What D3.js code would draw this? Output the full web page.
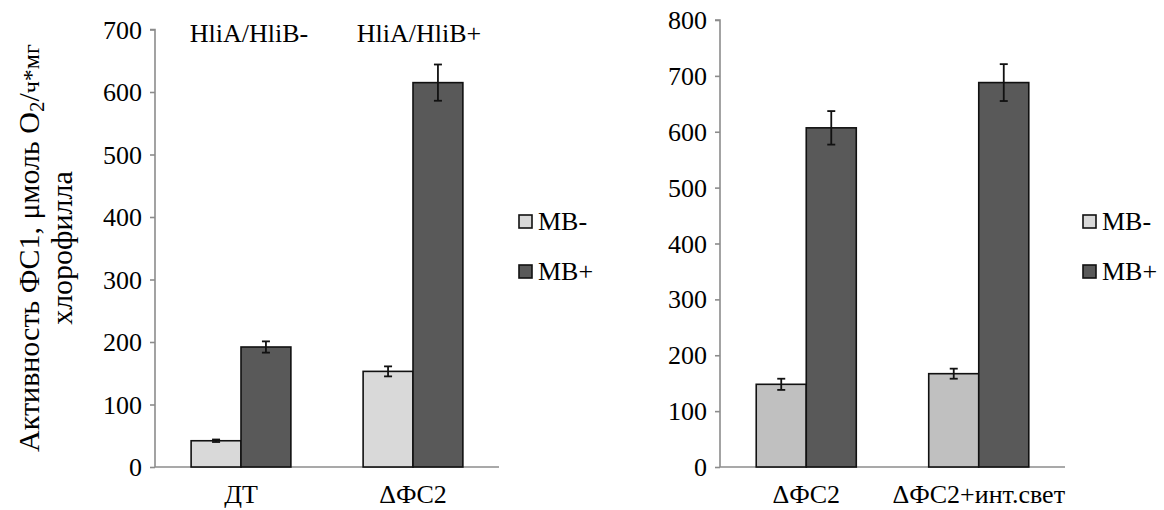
<!DOCTYPE html>
<html>
<head>
<meta charset="utf-8">
<script src="https://cdn.jsdelivr.net/npm/d3@7"></script>
</head>
<body style="margin:0">
<svg id="s" width="1164" height="510"></svg>
<script>
// ---- data ----
const seriesNames = ["MB-", "MB+"];

// left panel: wild type vs ΔФС2
const leftCategories = ["ДТ", "ΔФС2"];
const leftTopLabels = ["HliA/HliB-", "HliA/HliB+"];
const leftMBminus = [42, 153];
const leftMBminusErr = [2, 8];
const leftMBplus = [192, 615];
const leftMBplusErr = [9, 29];
const leftTicks = [0, 100, 200, 300, 400, 500, 600, 700];

// right panel: ΔФС2 vs ΔФС2 under intense light
const rightCategories = ["ΔФС2", "ΔФС2+инт.свет"];
const rightMBminus = [148, 167];
const rightMBminusErr = [10, 9];
const rightMBplus = [607, 688];
const rightMBplusErr = [30, 33];
const rightTicks = [0, 100, 200, 300, 400, 500, 600, 700, 800];

const FONT = 26;
const s = d3.select("#s");

// every text element goes straight onto the svg root
function txt(x, y, str, size, anchor) {
  return s.append("text").attr("x", x).attr("y", y)
    .style("font-family", '"Liberation Serif"')
    .style("font-size", (size || FONT) + "px")
    .attr("text-anchor", anchor || "start")
    .text(str);
}

function panel(opts) {
  const g = s.append("g");
  const x = d3.scaleBand().domain(opts.categories).range(opts.xRange)
    .paddingInner(0.42).paddingOuter(0.21);
  const xs = d3.scaleBand().domain(seriesNames).range([0, x.bandwidth()]);
  const y = d3.scaleLinear().domain(opts.yDomain).range(opts.yRange);

  // y axis lines (labels drawn separately below)
  const yAxis = g.append("g")
    .attr("transform", `translate(${opts.xRange[0]},0)`)
    .call(d3.axisLeft(y).tickValues(opts.ticks).tickSize(5).tickFormat(""));
  yAxis.selectAll("text").remove();
  yAxis.selectAll("path, line").attr("stroke", "#8c8c8c").attr("stroke-width", 1.6);
  yAxis.select(".domain").attr("d", `M-5,${y(opts.ticks[opts.ticks.length-1])}H0V${y(0)}`);
  opts.ticks.forEach(t => txt(opts.xRange[0] - 13, y(t) + 9, String(t), FONT, "end"));

  // x baseline
  g.append("line")
    .attr("x1", opts.xRange[0]).attr("x2", opts.xRange[1])
    .attr("y1", y(0)).attr("y2", y(0))
    .attr("stroke", "#8c8c8c").attr("stroke-width", 1.6);

  const rows = opts.categories.map((c, i) => ({
    cat: c,
    vals: [
      { s: "MB-", v: opts.minus[i], e: opts.minusErr[i], fill: opts.minusFill },
      { s: "MB+", v: opts.plus[i], e: opts.plusErr[i], fill: "#595959" }
    ]
  }));

  const grp = g.selectAll("g.grp").data(rows).join("g")
    .attr("class", "grp")
    .attr("transform", d => `translate(${x(d.cat)},0)`);

  grp.selectAll("rect").data(d => d.vals).join("rect")
    .attr("x", d => xs(d.s))
    .attr("y", d => y(d.v))
    .attr("width", xs.bandwidth())
    .attr("height", d => y(0) - y(d.v))
    .attr("fill", d => d.fill)
    .attr("stroke", "#111")
    .attr("stroke-width", 1.6);

  // error bars
  const eb = grp.selectAll("g.err").data(d => d.vals).join("g").attr("class", "err");
  const cx = d => xs(d.s) + xs.bandwidth() / 2;
  eb.append("line")
    .attr("x1", cx).attr("x2", cx)
    .attr("y1", d => y(d.v + d.e)).attr("y2", d => y(d.v - d.e));
  eb.append("line")
    .attr("x1", d => cx(d) - 4).attr("x2", d => cx(d) + 4)
    .attr("y1", d => y(d.v + d.e)).attr("y2", d => y(d.v + d.e));
  eb.append("line")
    .attr("x1", d => cx(d) - 4).attr("x2", d => cx(d) + 4)
    .attr("y1", d => y(d.v - d.e)).attr("y2", d => y(d.v - d.e));
  eb.selectAll("line").attr("stroke", "#111").attr("stroke-width", 1.8);

  // category labels
  opts.categories.forEach(c => txt(x(c) + x.bandwidth() / 2, 503, c, FONT, "middle"));

  // legend
  const items = [{ s: "MB-", fill: opts.legendMinusFill }, { s: "MB+", fill: "#595959" }];
  items.forEach((it, i) => {
    g.append("rect")
      .attr("x", opts.legendX).attr("y", opts.legendY + i * 50 - 7).attr("width", 13).attr("height", 13)
      .attr("fill", it.fill).attr("stroke", "#111").attr("stroke-width", 1.6);
    txt(opts.legendX + 19, opts.legendY + i * 50 + 8, it.s);
  });

  return { x, y };
}

const left = panel({
  categories: leftCategories,
  xRange: [155, 499],
  yDomain: [0, 700], yRange: [467, 29.5],
  ticks: leftTicks,
  minus: leftMBminus, minusErr: leftMBminusErr,
  plus: leftMBplus, plusErr: leftMBplusErr,
  minusFill: "#d9d9d9", legendMinusFill: "#d9d9d9",
  legendX: 519, legendY: 222
});

// group labels above the left panel
leftTopLabels.forEach((t, i) =>
  txt(left.x(leftCategories[i]) + left.x.bandwidth() / 2 + (i === 0 ? 8 : 6), 42, t, FONT, "middle"));

panel({
  categories: rightCategories,
  xRange: [720, 1065],
  yDomain: [0, 800], yRange: [467, 20],
  ticks: rightTicks,
  minus: rightMBminus, minusErr: rightMBminusErr,
  plus: rightMBplus, plusErr: rightMBplusErr,
  minusFill: "#c0c0c0", legendMinusFill: "#d9d9d9",
  legendX: 1083, legendY: 222
});

// y axis title (two lines, rotated)
const t1 = txt(0, 0, "", 30, "middle").attr("transform", "translate(39,248) rotate(-90)");
t1.append("tspan").text("Активность ФС1, μмоль O");
t1.append("tspan").attr("baseline-shift", "-25%").style("font-size", "21px").text("2");
t1.append("tspan").text("/");
t1.append("tspan").style("font-size", "24px").text("ч*мг");
txt(0, 0, "хлорофилла", 30, "middle").attr("transform", "translate(72,248) rotate(-90)");
</script>
</body>
</html>
